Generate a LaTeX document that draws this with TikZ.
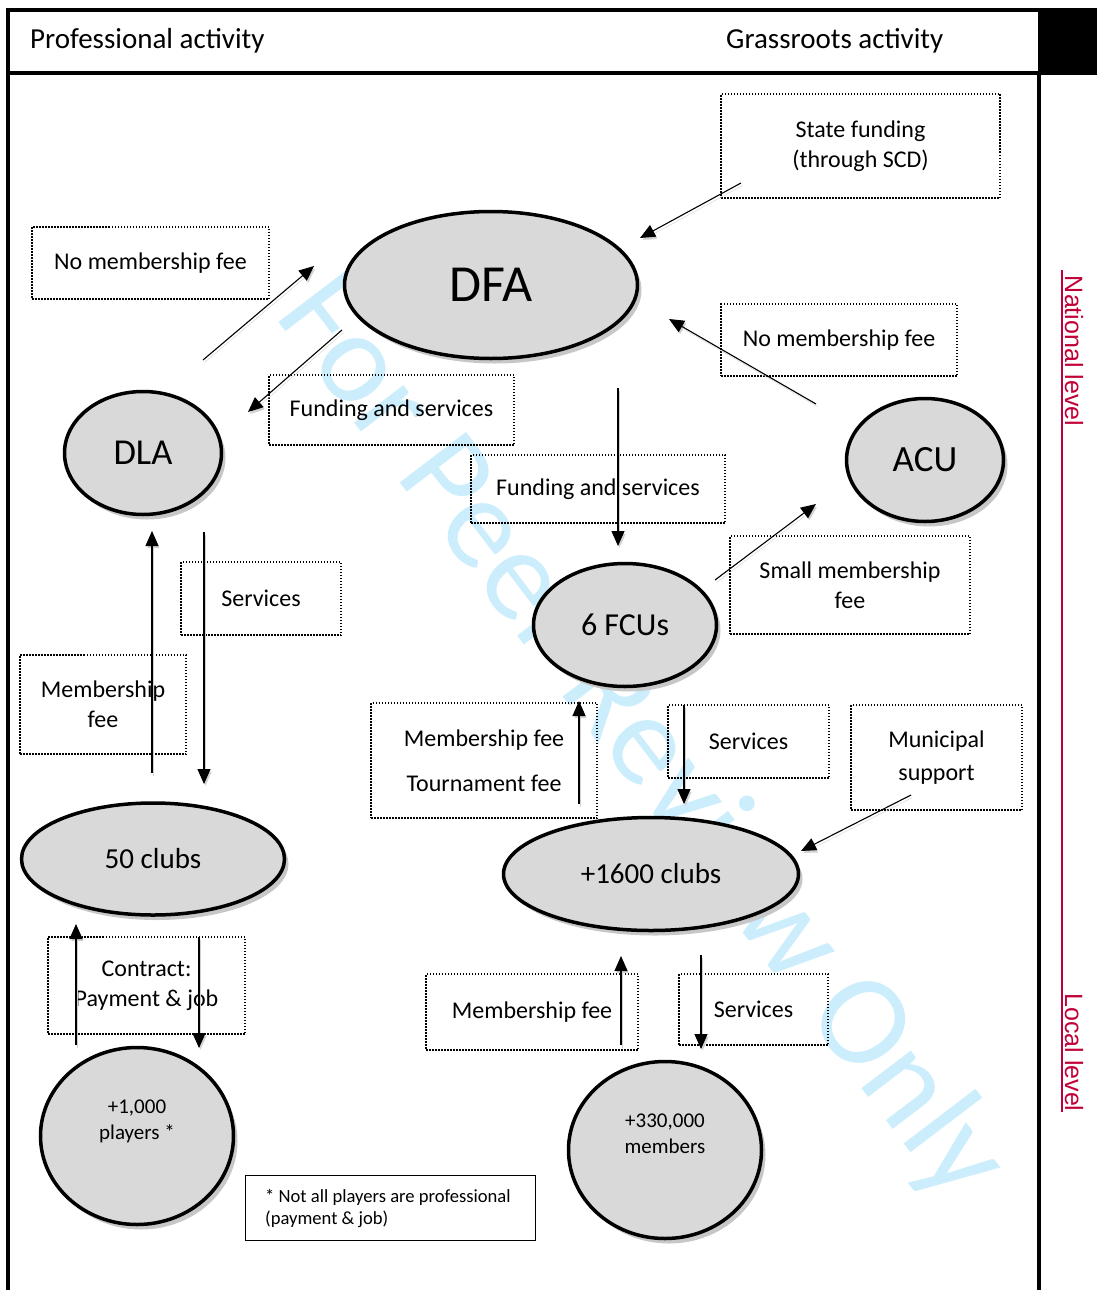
\documentclass[tikz,border=0pt]{standalone}
\usepackage{fontspec}
\setmainfont{Carlito}
\newfontfamily\arialfont{Liberation Sans}
\usetikzlibrary{arrows.meta,shapes.geometric,shadows}
\definecolor{ellfill}{RGB}{217,217,217}
\definecolor{wmcol}{RGB}{204,238,252}
\definecolor{lvlred}{RGB}{192,0,55}
\newcommand\fsz[2]{\fontsize{#1}{#2}\selectfont}
\tikzset{
  ell/.style={ellipse, draw, line width=3.5pt, fill=ellfill, inner sep=0pt,
    drop shadow={shadow xshift=4pt, shadow yshift=-5pt, fill=black!22, draw=none, opacity=1}},
  dbox/.style={draw, line width=1.5pt, dash pattern=on 1.5pt off 1.5pt, inner sep=0pt,
    align=center, font=\fsz{24}{30}},
  arr/.style={line width=1.1pt, -{Triangle[length=15pt,width=13pt]},
    preaction={draw=black!18, -{Triangle[length=15pt,width=13pt]},
      transform canvas={xshift=1.5pt,yshift=-2.5pt}}},
  lbl/.style={inner sep=0pt, align=center}
}
\begin{document}
\begin{tikzpicture}[x=1pt,y=-1pt]
\useasboundingbox (0,0) rectangle (1097,1290);
% watermark
\node[rotate=-52.7, text=wmcol, font=\fsz{130}{130}, inner sep=0pt] (wmk) at (640,740) {For Peer Review Only};
% frame
\fill (1038,8) rectangle (1097,75);
\draw[line width=4pt] (8,10) -- (1038,10);
\draw[line width=4pt] (8,73) -- (1038,73);
\draw[line width=4pt] (8,8) -- (8,1290);
\draw[line width=4pt] (1039,73) -- (1039,1290);
\node[lbl, anchor=west, font=\fsz{29}{34}] (hpro) at (30,41) {Professional activity};
\node[lbl, anchor=west, font=\fsz{29}{34}] (hgra) at (726,41) {Grassroots activity};
% level labels
\draw[lvlred, line width=1.2pt] (1062,270) -- (1062,1112);
\node[rotate=-90, anchor=base, inner sep=0pt, text=lvlred, font=\arialfont\fsz{25}{30}] (nat) at (1065,351) {National level};
\node[rotate=-90, anchor=base, inner sep=0pt, text=lvlred, font=\arialfont\fsz{25}{30}] (loc) at (1065,1052.5) {Local level};
% ellipses
\node[ell, minimum width=293pt, minimum height=147pt, font=\fsz{52}{60}] (dfa) at (491,285) {DFA};
\node[ell, minimum width=157pt, minimum height=123pt, font=\fsz{36.5}{40}] (dla) at (143,453) {DLA};
\node[ell, minimum width=157pt, minimum height=123pt, font=\fsz{37}{40}] (acu) at (925,460) {ACU};
\node[ell, minimum width=183pt, minimum height=123pt, font=\fsz{32}{36}] (fcu) at (625,625) {6 FCUs};
\node[ell, minimum width=263pt, minimum height=112pt, font=\fsz{29}{34}] (c50) at (153,859) {50 clubs};
\node[ell, minimum width=295pt, minimum height=113pt, font=\fsz{29}{34}] (c1600) at (651,874) {+1600 clubs};
\node[ell, minimum width=193pt, minimum height=177pt] (pl) at (137,1136) {};
\node[ell, minimum width=193pt, minimum height=177pt] (mem) at (665,1150) {};
\node[lbl, font=\fsz{21}{26}] (plt) at (137,1121) {+1,000\\players *};
\node[lbl, font=\fsz{21}{26}] (memt) at (665,1134) {+330,000\\members};
% boxes
\node[dbox, minimum width=279pt, minimum height=104pt] (sf) at (860.5,146) {State funding\\(through SCD)};
\node[dbox, minimum width=237pt, minimum height=72pt] (nm1) at (150.5,263) {No membership fee};
\node[dbox, minimum width=245pt, minimum height=70pt] (fs1) at (391.5,410) {Funding and services};
\node[dbox, minimum width=236pt, minimum height=72pt] (nm2) at (839,340) {No membership fee};
\node[dbox, minimum width=254pt, minimum height=68pt] (fs2) at (598,489) {Funding and services};
\node[dbox, minimum width=160pt, minimum height=73pt] (sv1) at (261,598.5) {Services};
\node[dbox, minimum width=166pt, minimum height=99pt] (mf1) at (103,704.5) {Membership\\fee};
\node[dbox, minimum width=240pt, minimum height=98pt] (smf) at (850,585) {Small membership\\fee};
\node[dbox, minimum width=226pt, minimum height=115pt] (mt) at (484,760.5) {Membership fee\\[15pt]Tournament fee};
\node[dbox, minimum width=161pt, minimum height=73pt] (sv2) at (748.5,741.5) {Services};
\node[dbox, minimum width=171pt, minimum height=105pt] (mun) at (936.5,757.5) {Municipal\\[3pt]support};
\node[dbox, minimum width=197pt, minimum height=97pt] (con) at (146.5,985.5) {Contract:\\Payment \& job};
\node[dbox, minimum width=212pt, minimum height=76pt] (mf2) at (532,1012) {Membership fee};
\node[dbox, minimum width=149pt, minimum height=71pt] (sv3) at (753.5,1009.5) {Services};
\node[draw, line width=1pt, inner sep=0pt, minimum width=290pt, minimum height=65pt] (foot) at (390,1207.5) {};
\node[inner sep=0pt, anchor=west, align=left, font=\fsz{18.6}{22}] (foott) at (265,1208) {* Not all players are professional\\(payment \& job)};
% arrow end points
\coordinate (a1s) at (741,183);  \coordinate (a1e) at (640,238);
\coordinate (a2s) at (203,360);  \coordinate (a2e) at (314,266);
\coordinate (a3s) at (342,330);  \coordinate (a3e) at (248,412);
\coordinate (a4s) at (816,404);  \coordinate (a4e) at (669,319);
\coordinate (a5s) at (618,388);  \coordinate (a5e) at (618,546);
\coordinate (a6s) at (715,580);  \coordinate (a6e) at (816,504);
\coordinate (a7s) at (152,773);  \coordinate (a7e) at (152,531);
\coordinate (a8s) at (204,532);  \coordinate (a8e) at (204,784);
\coordinate (a9s) at (579,804);  \coordinate (a9e) at (579,701);
\coordinate (a10s) at (684,705); \coordinate (a10e) at (684,804);
\coordinate (a11s) at (911,795); \coordinate (a11e) at (801,851);
\coordinate (a12s) at (76,1045); \coordinate (a12e) at (76,924);
\coordinate (a13s) at (199,937); \coordinate (a13e) at (199,1048);
\coordinate (a14s) at (621,1045); \coordinate (a14e) at (621,956);
\coordinate (a15s) at (701,955); \coordinate (a15e) at (701,1049);
\foreach \i in {1,...,15} { \draw[arr] (a\i s) -- (a\i e); }
\end{tikzpicture}
\end{document}
